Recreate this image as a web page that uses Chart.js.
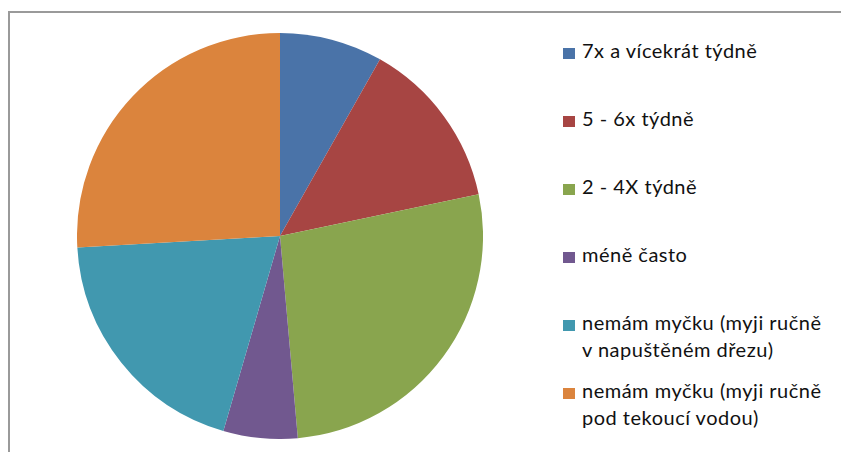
<!DOCTYPE html>
<html>
<head>
<meta charset="utf-8">
<script src="https://cdn.jsdelivr.net/npm/chart.js@4/dist/chart.umd.min.js"></script>
<style>
  html, body { margin: 0; padding: 0; background: #fff; overflow: hidden; }
  body { width: 841px; height: 452px; position: relative; }
  .frame { position: absolute; left: 8px; top: 11px; width: 900px; height: 500px; border-top: 2px solid #9a9a9a; border-left: 2px solid #9a9a9a; }
  .pie { position: absolute; left: 77px; top: 33px; width: 406px; height: 406px; }
  .legend { position: absolute; left: 563px; top: 37px; font-family: Lato, "Open Sans", sans-serif; font-size: 20px; letter-spacing: 0.5px; color: #111; }
  .item { position: relative; height: 68px; line-height: 27px; padding-left: 19px; }
  .swatch { position: absolute; left: 0; top: 11px; width: 12px; height: 11px; }
</style>
</head>
<body>
<div class="frame"></div>
<div class="pie"><canvas id="chart"></canvas></div>
<div class="legend" id="legend"></div>
<script>
const categories = [
  ['7x a vícekrát týdně'],
  ['5 - 6x týdně'],
  ['2 - 4X týdně'],
  ['méně často'],
  ['nemám myčku (myji ručně', 'v napuštěném dřezu)'],
  ['nemám myčku (myji ručně', 'pod tekoucí vodou)']
];
const shares = [8.2, 13.5, 26.9, 5.9, 19.6, 25.9];
const colors = ['#4A73A8', '#A74543', '#89A54E', '#71588F', '#4198AF', '#DB843D'];

new Chart(document.getElementById('chart').getContext('2d'), {
  type: 'pie',
  data: {
    labels: categories.map((c) => c.join(' ')),
    datasets: [
      {
        data: shares,
        backgroundColor: colors,
        borderWidth: 0,
        hoverOffset: 0,
        offset: 0,
      },
    ],
  },
  options: {
    responsive: true,
    maintainAspectRatio: false,
    animation: false,
    events: [],
    layout: { padding: 0 },
    plugins: {
      legend: { display: false },
      tooltip: { enabled: false },
    },
  },
});

// legend on the right, one slot per category
const legend = document.getElementById('legend');
categories.forEach((lines, i) => {
  const item = document.createElement('div');
  item.className = 'item';
  const sw = document.createElement('span');
  sw.className = 'swatch';
  sw.style.background = colors[i];
  item.appendChild(sw);
  lines.forEach((line, j) => {
    if (j > 0) item.appendChild(document.createElement('br'));
    item.appendChild(document.createTextNode(line));
  });
  legend.appendChild(item);
});
</script>
</body>
</html>
